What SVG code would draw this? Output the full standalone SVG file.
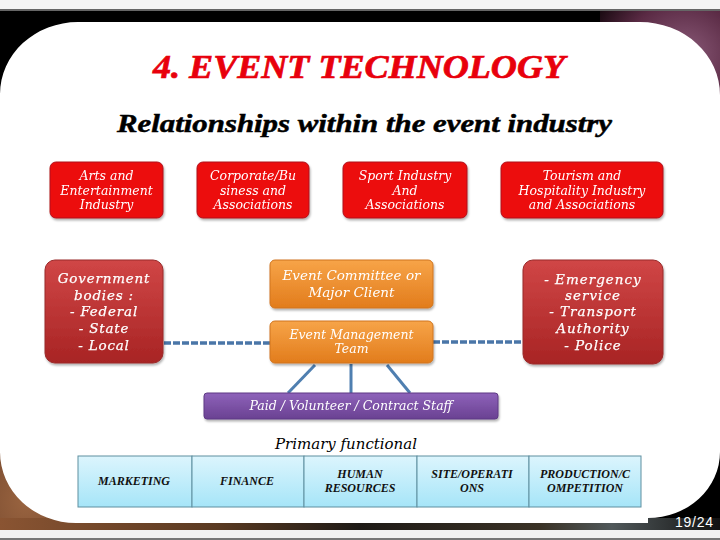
<svg xmlns="http://www.w3.org/2000/svg" width="720" height="540" viewBox="0 0 720 540">
<defs>
<style>
.bt{font-family:"DejaVu Serif","Liberation Serif",serif;font-style:italic;fill:#fff;text-anchor:middle}
.tb{font-family:"Liberation Serif",serif;font-style:italic;font-weight:bold;fill:#111;font-size:12px;text-anchor:middle}
.red{fill:#ec0a0e;stroke:#b0141a;stroke-width:1}
.dred{fill:url(#gDred);stroke:#9a2a2a;stroke-width:1}
.org{fill:url(#gOrg);stroke:#d0741e;stroke-width:1}
.cell{fill:url(#gCell);stroke:#5f8fa0;stroke-width:1}
.dash{stroke:#4a76a8;stroke-width:3.5;stroke-dasharray:7 2;fill:none}
.sol{stroke:#4f7fb0;stroke-width:3;fill:none}
</style>
<linearGradient id="gDred" x1="0" y1="0" x2="0" y2="1"><stop offset="0" stop-color="#d04646"/><stop offset="1" stop-color="#a82424"/></linearGradient>
<linearGradient id="gOrg" x1="0" y1="0" x2="0" y2="1"><stop offset="0" stop-color="#f7a448"/><stop offset="1" stop-color="#e27c1c"/></linearGradient>
<linearGradient id="gPur" x1="0" y1="0" x2="0" y2="1"><stop offset="0" stop-color="#8e63ba"/><stop offset="1" stop-color="#6a4192"/></linearGradient>
<linearGradient id="gCell" x1="0" y1="0" x2="0" y2="1"><stop offset="0" stop-color="#dcf5fd"/><stop offset="1" stop-color="#a6e5f8"/></linearGradient>
<linearGradient id="gStrip" x1="0" y1="0" x2="1" y2="0"><stop offset="0" stop-color="#8a5432"/><stop offset="0.3" stop-color="#5a3a22"/><stop offset="0.5" stop-color="#1e1a16"/><stop offset="0.75" stop-color="#3a3226"/><stop offset="0.85" stop-color="#50585a"/><stop offset="1" stop-color="#111"/></linearGradient>
<radialGradient id="gPurBg" cx="0.7" cy="0.4" r="0.8"><stop offset="0" stop-color="#8a5a78"/><stop offset="0.6" stop-color="#5a2a44"/><stop offset="1" stop-color="#1a0a12"/></radialGradient>
<radialGradient id="gBrown" cx="0.2" cy="0.8" r="0.9"><stop offset="0" stop-color="#9a6440"/><stop offset="0.7" stop-color="#6a4028"/><stop offset="1" stop-color="#2a1a10"/></radialGradient>
<filter id="sh" x="-10%" y="-10%" width="130%" height="140%"><feDropShadow dx="1" dy="2" stdDeviation="1.2" flood-color="#000" flood-opacity="0.3"/></filter>
</defs>

<!-- background -->
<rect x="0" y="0" width="720" height="540" fill="#000"/>
<rect x="600" y="10" width="120" height="110" fill="url(#gPurBg)"/>
<rect x="0" y="380" width="130" height="150" fill="url(#gBrown)"/>
<rect x="0" y="518" width="720" height="12" fill="url(#gStrip)"/>
<rect x="0" y="0" width="720" height="9" fill="#f4f4f4"/>
<rect x="0" y="9" width="720" height="2" fill="#666"/>
<rect x="0" y="530" width="720" height="8" fill="#f2f2f2"/>
<rect x="0" y="538" width="720" height="2" fill="#777"/>
<path d="M78,22 H640 A80,73 0 0 1 720,95 V452 A72,66 0 0 1 648,518 V523 H76 A76,71 0 0 1 0,452 V94 A78,72 0 0 1 78,22 Z" fill="#fff"/>
<text x="675" y="527" font-family="Liberation Sans,Arial,sans-serif" font-size="14" fill="#fff" textLength="38">19/24</text>

<!-- titles -->
<text x="153" y="78" font-family="Liberation Serif,serif" font-weight="bold" font-style="italic" font-size="34" fill="#e8000c" stroke="#e8000c" stroke-width="0.7" textLength="412" lengthAdjust="spacingAndGlyphs">4. EVENT TECHNOLOGY</text>
<text x="117" y="132" font-family="Liberation Serif,serif" font-weight="bold" font-style="italic" font-size="26" fill="#000" stroke="#000" stroke-width="0.5" textLength="495" lengthAdjust="spacingAndGlyphs">Relationships within the event industry</text>

<!-- connectors -->
<g id="connectors">
<line class="dash" x1="164" y1="343" x2="270" y2="343"/>
<line class="dash" x1="433" y1="342" x2="523" y2="342"/>
<line class="sol" x1="315" y1="365" x2="288" y2="393"/>
<line class="sol" x1="351" y1="364" x2="351" y2="393"/>
<line class="sol" x1="387" y1="365" x2="410" y2="393"/>
</g>

<!-- top row -->
<g id="arts" filter="url(#sh)">
<rect class="red" x="50" y="162" width="113" height="56" rx="6"/>
<text class="bt" font-size="12.5"><tspan x="106.5" y="180">Arts and</tspan><tspan x="106.5" y="194.5">Entertainment</tspan><tspan x="106.5" y="209">Industry</tspan></text>
</g>
<g id="corporate" filter="url(#sh)">
<rect class="red" x="197" y="162" width="112" height="56" rx="6"/>
<text class="bt" font-size="12.5"><tspan x="253" y="180">Corporate/Bu</tspan><tspan x="253" y="194.5">siness and</tspan><tspan x="253" y="209">Associations</tspan></text>
</g>
<g id="sport" filter="url(#sh)">
<rect class="red" x="343" y="162" width="124" height="56" rx="6"/>
<text class="bt" font-size="12.5"><tspan x="405" y="180">Sport Industry</tspan><tspan x="405" y="194.5">And</tspan><tspan x="405" y="209">Associations</tspan></text>
</g>
<g id="tourism" filter="url(#sh)">
<rect class="red" x="501" y="162" width="162" height="56" rx="6"/>
<text class="bt" font-size="12.5"><tspan x="582" y="180">Tourism and</tspan><tspan x="582" y="194.5">Hospitality Industry</tspan><tspan x="582" y="209">and Associations</tspan></text>
</g>

<!-- middle row -->
<g id="government" filter="url(#sh)">
<rect class="dred" x="45" y="260" width="118" height="103" rx="10"/>
<text class="bt" font-size="13.5" letter-spacing="0.8" stroke="#fff" stroke-width="0.25"><tspan x="104" y="283">Government</tspan><tspan x="104" y="300">bodies :</tspan><tspan x="104" y="316">- Federal</tspan><tspan x="104" y="333">- State</tspan><tspan x="104" y="350">- Local</tspan></text>
</g>
<g id="committee" filter="url(#sh)">
<rect class="org" x="270" y="260" width="163" height="48" rx="5"/>
<text class="bt" font-size="13.5"><tspan x="351.5" y="280">Event Committee or</tspan><tspan x="351.5" y="297">Major Client</tspan></text>
</g>
<g id="management" filter="url(#sh)">
<rect class="org" x="270" y="321" width="163" height="42" rx="5"/>
<text class="bt" font-size="12.5"><tspan x="351.5" y="339">Event Management</tspan><tspan x="351.5" y="353">Team</tspan></text>
</g>
<g id="emergency" filter="url(#sh)">
<rect class="dred" x="523" y="260" width="140" height="104" rx="10"/>
<text class="bt" font-size="13.5" letter-spacing="1" stroke="#fff" stroke-width="0.25"><tspan x="593" y="284">- Emergency</tspan><tspan x="593" y="300">service</tspan><tspan x="593" y="316">- Transport</tspan><tspan x="593" y="333">Authority</tspan><tspan x="593" y="350">- Police</tspan></text>
</g>

<!-- staff -->
<g id="staff" filter="url(#sh)">
<rect x="204" y="393" width="294" height="26" rx="3" fill="url(#gPur)" stroke="#5e3a84" stroke-width="1"/>
<text class="bt" x="351" y="410" font-size="12" textLength="203" lengthAdjust="spacingAndGlyphs">Paid / Volunteer / Contract Staff</text>
</g>

<text x="346" y="449" font-family="DejaVu Serif,Liberation Serif,serif" font-style="italic" font-size="14" fill="#000" text-anchor="middle" textLength="142" lengthAdjust="spacingAndGlyphs">Primary functional</text>

<!-- table -->
<g id="table">
<g id="marketing"><rect class="cell" x="78" y="456" width="114" height="51"/><text class="tb" x="134" y="485">MARKETING</text></g>
<g id="finance"><rect class="cell" x="192" y="456" width="112" height="51"/><text class="tb" x="247" y="485">FINANCE</text></g>
<g id="hr"><rect class="cell" x="304" y="456" width="113" height="51"/><text class="tb"><tspan x="360" y="478">HUMAN</tspan><tspan x="360" y="492">RESOURCES</tspan></text></g>
<g id="site"><rect class="cell" x="417" y="456" width="112" height="51"/><text class="tb"><tspan x="472" y="478">SITE/OPERATI</tspan><tspan x="472" y="492">ONS</tspan></text></g>
<g id="production"><rect class="cell" x="529" y="456" width="112" height="51"/><text class="tb"><tspan x="585" y="478">PRODUCTION/C</tspan><tspan x="585" y="492">OMPETITION</tspan></text></g>
</g>
</svg>
